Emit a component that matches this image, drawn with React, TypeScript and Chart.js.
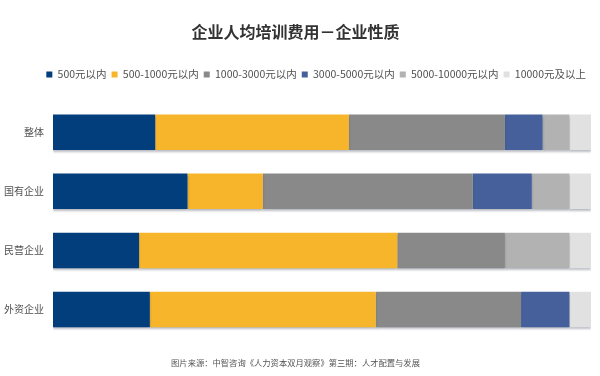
import React, { useEffect, useRef } from "react";
import { Chart, registerables } from "chart.js";

Chart.register(...registerables);

const categories = ["整体", "国有企业", "民营企业", "外资企业"];
const seriesNames = ["500元以内", "500-1000元以内", "1000-3000元以内", "3000-5000元以内", "5000-10000元以内", "10000元及以上"];
const s500 = [19, 25, 16, 18];
const s1000 = [36, 14, 48, 42];
const s3000 = [29, 39, 20, 27];
const s5000 = [7, 11, 0, 9];
const s10000 = [5, 7, 12, 0];
const sAbove = [4, 4, 4, 4];
const colors = ["#023D7C", "#F7B52B", "#898989", "#45609A", "#B2B2B2", "#E1E1E1"];
const titleText = "企业人均培训费用－企业性质";
const footerText = "图片来源：中智咨询《人力资本双月观察》第三期：人才配置与发展";

const FONT = "'Noto Sans CJK SC', 'Noto Sans', sans-serif";

export default function App() {
  const ref = useRef<HTMLCanvasElement>(null);
  useEffect(() => {
    if (!ref.current) return;
    const values = [s500, s1000, s3000, s5000, s10000, sAbove];
    const shadowPlugin = {
      id: "barShadow",
      beforeDatasetsDraw(chart: any) {
        const ctx = chart.ctx;
        ctx.save();
        ctx.shadowColor = "rgba(60,70,90,0.35)";
        ctx.shadowBlur = 2;
        ctx.shadowOffsetY = 2;
        ctx.shadowOffsetX = 0;
      },
      afterDatasetsDraw(chart: any) {
        chart.ctx.restore();
      },
    };
    const legendSpacer = {
      id: "legendSpacer",
      beforeInit(chart: any) {
        const legend = chart.legend;
        if (!legend) return;
        const orig = legend.fit;
        legend.fit = function () {
          orig.call(this);
          this.height += 13;
        };
      },
    };
    const chart = new Chart(ref.current, {
      type: "bar",
      data: {
        labels: categories,
        datasets: seriesNames.map((name, i) => ({
          label: name,
          data: values[i],
          backgroundColor: colors[i],
          borderWidth: 0,
          barPercentage: 1,
          categoryPercentage: 0.6,
        })),
      },
      plugins: [shadowPlugin, legendSpacer],
      options: {
        indexAxis: "y",
        animation: false,
        responsive: true,
        maintainAspectRatio: false,
        layout: { padding: { top: 22, right: 9, left: 0, bottom: 0 } },
        plugins: {
          title: {
            display: true,
            text: titleText,
            color: "#333333",
            font: { family: FONT, size: 16, weight: "bold" },
            padding: { top: 0, bottom: 23 },
          },
          subtitle: {
            display: true,
            position: "bottom",
            text: footerText,
            color: "#555555",
            font: { family: FONT, size: 8.3 },
            padding: { top: 19, bottom: 8 },
          },
          legend: {
            display: true,
            position: "top",
            align: "end",
            labels: {
              boxWidth: 6,
              boxHeight: 6,
              padding: 5,
              color: "#505050",
              font: { family: FONT, size: 10.5 },
            },
          },
          tooltip: { enabled: false },
        },
        scales: {
          x: {
            stacked: true,
            min: 0,
            max: 100,
            display: false,
          },
          y: {
            stacked: true,
            grid: { display: false, drawTicks: false },
            border: { display: false },
            ticks: {
              color: "#505050",
              padding: 9,
              font: { family: FONT, size: 10 },
            },
            afterFit(scale: any) {
              scale.width = 53;
            },
          },
        },
      },
    });
    return () => chart.destroy();
  }, []);
  return (
    <div style={{ position: "fixed", left: 0, top: 0, width: 600, height: 376, background: "#fff" }}>
      <canvas ref={ref} />
    </div>
  );
}
